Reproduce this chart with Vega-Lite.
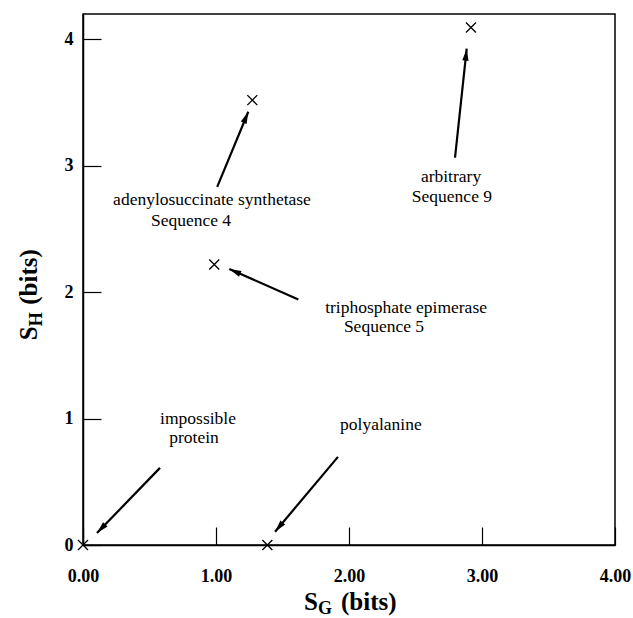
{
  "$schema": "https://vega.github.io/schema/vega-lite/v6.json",
  "width": 532,
  "height": 531,
  "autosize": "none",
  "padding": {"left": 83, "top": 14, "right": 18, "bottom": 73},
  "background": "white",
  "config": {
    "view": {"stroke": "black", "strokeWidth": 1.5},
    "font": "Liberation Serif",
    "axis": {
      "grid": false,
      "domainColor": "black",
      "domainWidth": 1.5,
      "tickColor": "black",
      "tickWidth": 1.2,
      "tickSize": -18,
      "labelFont": "Liberation Serif",
      "labelFontSize": 18,
      "labelFontWeight": "bold",
      "labelColor": "black"
    }
  },
  "datasets": {
    "points": [
      {"x": 0, "y": 0},
      {"x": 1.386, "y": 0},
      {"x": 1.273, "y": 3.519},
      {"x": 0.987, "y": 2.218},
      {"x": 2.917, "y": 4.093}
    ],
    "arrows": [
      {"x0": 0.579, "y0": 0.61, "x": 0.105, "y": 0.095},
      {"x0": 1.917, "y0": 0.697, "x": 1.444, "y": 0.105},
      {"x0": 1.009, "y0": 2.833, "x": 1.243, "y": 3.427},
      {"x0": 1.619, "y0": 1.941, "x": 1.1, "y": 2.184},
      {"x0": 2.797, "y0": 3.063, "x": 2.885, "y": 3.926}
    ],
    "labels": [
      {"text": "impossible", "x": 0.865, "y": 0.998},
      {"text": "protein", "x": 0.835, "y": 0.848},
      {"text": "polyalanine", "x": 2.24, "y": 0.95},
      {"text": "adenylosuccinate synthetase", "x": 0.97, "y": 2.727},
      {"text": "Sequence 4", "x": 0.812, "y": 2.561},
      {"text": "triphosphate epimerase", "x": 2.429, "y": 1.877},
      {"text": "Sequence 5", "x": 2.263, "y": 1.727},
      {"text": "arbitrary", "x": 2.767, "y": 2.907},
      {"text": "Sequence 9", "x": 2.774, "y": 2.749}
    ],
    "xtitle": [
      {"text": "S", "x": 1.662, "y": -0.515},
      {"text": "(bits)", "x": 1.94, "y": -0.515}
    ],
    "xsub": [
      {"text": "G", "x": 1.767, "y": -0.546}
    ],
    "ytitle": [
      {"text": "S", "x": -0.346, "y": 1.62},
      {"text": "(bits)", "x": -0.346, "y": 1.9}
    ],
    "ysub": [
      {"text": "H", "x": -0.308, "y": 1.73}
    ]
  },
  "encoding": {
    "x": {
      "field": "x",
      "type": "quantitative",
      "scale": {"domain": [0, 4], "nice": false, "zero": false},
      "axis": {"title": null, "values": [0, 1, 2, 3, 4], "format": ".2f", "labelPadding": 40, "labelFlush": false}
    },
    "y": {
      "field": "y",
      "type": "quantitative",
      "scale": {"domain": [0, 4.2], "nice": false, "zero": false},
      "axis": {"title": null, "values": [0, 1, 2, 3, 4], "format": "d", "labelPadding": 28, "labelFlush": false}
    }
  },
  "layer": [
    {
      "data": {"name": "arrows"},
      "mark": {"type": "rule", "color": "black", "strokeWidth": 2.2},
      "encoding": {"x2": {"field": "x0"}, "y2": {"field": "y0"}}
    },
    {
      "data": {"name": "arrows"},
      "transform": [
        {"calculate": "atan2((datum.x - datum.x0) * 133, (datum.y - datum.y0) * 126.25) * 180 / PI", "as": "ang"}
      ],
      "mark": {"type": "point", "shape": "M0,0L-0.42,1.6L0.42,1.6Z", "filled": true, "color": "black", "size": 225, "opacity": 1},
      "encoding": {"angle": {"field": "ang", "type": "quantitative", "scale": null}}
    },
    {
      "data": {"name": "points"},
      "mark": {"type": "point", "shape": "M-1,-1L1,1M-1,1L1,-1", "filled": false, "color": "black", "size": 100, "strokeWidth": 1.3, "opacity": 1}
    },
    {
      "data": {"name": "labels"},
      "mark": {"type": "text", "font": "Liberation Serif", "fontSize": 17.5, "color": "black", "align": "center", "baseline": "middle"},
      "encoding": {"text": {"field": "text"}}
    },
    {
      "data": {"name": "xtitle"},
      "mark": {"type": "text", "font": "Liberation Serif", "fontSize": 25, "fontWeight": "bold", "color": "black", "align": "left", "baseline": "alphabetic"},
      "encoding": {"text": {"field": "text"}}
    },
    {
      "data": {"name": "xsub"},
      "mark": {"type": "text", "font": "Liberation Serif", "fontSize": 18, "fontWeight": "bold", "color": "black", "align": "left", "baseline": "alphabetic"},
      "encoding": {"text": {"field": "text"}}
    },
    {
      "data": {"name": "ytitle"},
      "mark": {"type": "text", "font": "Liberation Serif", "fontSize": 25, "fontWeight": "bold", "color": "black", "align": "left", "baseline": "alphabetic", "angle": 270},
      "encoding": {"text": {"field": "text"}}
    },
    {
      "data": {"name": "ysub"},
      "mark": {"type": "text", "font": "Liberation Serif", "fontSize": 18, "fontWeight": "bold", "color": "black", "align": "left", "baseline": "alphabetic", "angle": 270},
      "encoding": {"text": {"field": "text"}}
    }
  ]
}
